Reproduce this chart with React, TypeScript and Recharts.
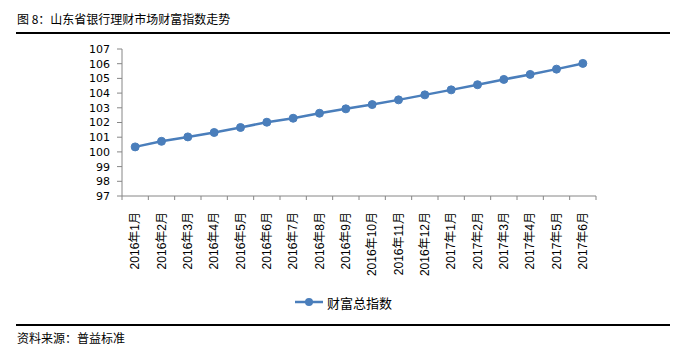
import { LineChart, Line, XAxis, YAxis, Legend } from 'recharts';

const months = [
  '2016年1月', '2016年2月', '2016年3月', '2016年4月', '2016年5月', '2016年6月',
  '2016年7月', '2016年8月', '2016年9月', '2016年10月', '2016年11月', '2016年12月',
  '2017年1月', '2017年2月', '2017年3月', '2017年4月', '2017年5月', '2017年6月',
];

const wealthIndex = [
  100.34, 100.72, 101.02, 101.32, 101.66, 102.02, 102.29, 102.63, 102.93,
  103.22, 103.54, 103.88, 104.22, 104.57, 104.93, 105.27, 105.63, 106.02,
];

const yTicks = [97, 98, 99, 100, 101, 102, 103, 104, 105, 106, 107];

const data = months.map((month, i) => ({ month, value: wealthIndex[i] }));

const BLUE = '#4a7ebb';
const AXIS = '#868686';
const CJK = '"Noto Sans CJK SC", "Liberation Sans", sans-serif';
const LABEL_GAP = 16;
const TICK_LEN = 4;

// Rotated month label (reading bottom-to-top) plus tick marks on the band edges
function MonthTick({ x, y, payload, index }: any) {
  const half = payload.offset || 0;
  const axisY = y - LABEL_GAP;
  return (
    <g>
      <line x1={x - half} y1={axisY} x2={x - half} y2={axisY + TICK_LEN} stroke={AXIS} />
      {index === months.length - 1 && (
        <line x1={x + half} y1={axisY} x2={x + half} y2={axisY + TICK_LEN} stroke={AXIS} />
      )}
      <text
        x={x}
        y={y}
        transform={`rotate(-90, ${x}, ${y})`}
        textAnchor="end"
        dominantBaseline="central"
        fontSize={12}
        fontFamily='"Liberation Sans", "Noto Sans CJK SC", sans-serif'
        fill="#000"
      >
        {payload.value}
      </text>
    </g>
  );
}

function LegendContent() {
  return (
    <div style={{ display: 'flex', justifyContent: 'center', alignItems: 'center', height: 18 }}>
      <svg width={28} height={10}>
        <line x1={0} y1={5} x2={28} y2={5} stroke={BLUE} strokeWidth={2.5} />
        <circle cx={14} cy={5} r={4} fill={BLUE} />
      </svg>
      <span style={{ marginLeft: 4, fontSize: 13, fontFamily: CJK, color: '#000' }}>财富总指数</span>
    </div>
  );
}

export default function App() {
  return (
    <div style={{ position: 'absolute', left: 0, top: 0, width: 687, height: 364, background: '#fff' }}>
      <div
        style={{
          position: 'absolute', left: 17, top: 10, fontSize: 12, fontFamily: CJK,
          color: '#000', whiteSpace: 'nowrap', lineHeight: '18px',
        }}
      >
        图 8：山东省银行理财市场财富指数走势
      </div>
      <div style={{ position: 'absolute', left: 16, top: 32, width: 654, height: 1.5, background: '#000' }} />

      <div style={{ position: 'absolute', left: 0, top: 0 }}>
        <LineChart width={687} height={364} data={data} margin={{ top: 49, right: 91, left: 0, bottom: 53 }}>
          <XAxis
            dataKey="month"
            scale="band"
            interval={0}
            height={97}
            tickSize={0}
            tickMargin={LABEL_GAP}
            axisLine={{ stroke: AXIS }}
            tickLine={false}
            tick={<MonthTick />}
          />
          <YAxis
            domain={[97, 107]}
            ticks={yTicks}
            interval={0}
            width={122}
            tickSize={5}
            tickMargin={7}
            axisLine={{ stroke: AXIS }}
            tickLine={{ stroke: AXIS }}
            tick={{ fill: '#000', fontSize: 11, fontFamily: '"DejaVu Sans", sans-serif' }}
          />
          <Line
            dataKey="value"
            name="财富总指数"
            stroke={BLUE}
            strokeWidth={2.5}
            dot={{ r: 4, fill: BLUE, stroke: BLUE, strokeWidth: 1 }}
            isAnimationActive={false}
          />
          <Legend
            verticalAlign="bottom"
            content={<LegendContent />}
            wrapperStyle={{ left: 0, width: 687 }}
          />
        </LineChart>
      </div>

      <div style={{ position: 'absolute', left: 16, top: 324, width: 654, height: 1.5, background: '#000' }} />
      <div
        style={{
          position: 'absolute', left: 17, top: 329, fontSize: 12, fontFamily: CJK,
          color: '#000', whiteSpace: 'nowrap', lineHeight: '17px',
        }}
      >
        资料来源：普益标准
      </div>
    </div>
  );
}
